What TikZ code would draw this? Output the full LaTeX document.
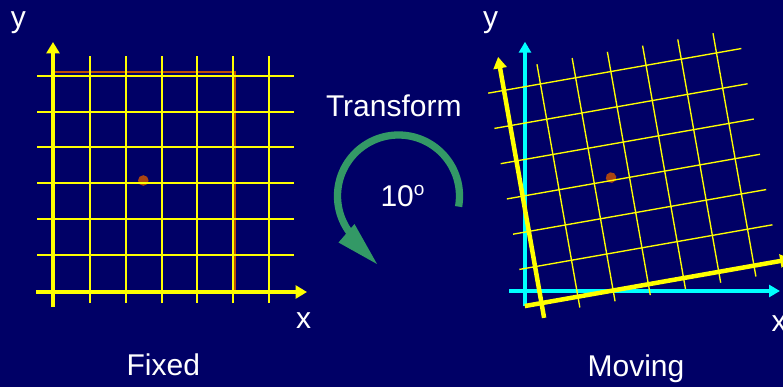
\documentclass[tikz,border=0pt]{standalone}
\usepackage{fontspec}
\setmainfont{Liberation Sans}
\usetikzlibrary{arrows.meta}
\definecolor{bg}{RGB}{0,0,102}
\definecolor{gridy}{RGB}{255,255,0}
\definecolor{arcg}{RGB}{51,153,102}
\definecolor{dotc}{RGB}{170,68,17}
\definecolor{rectc}{RGB}{190,80,0}
\definecolor{cyanax}{RGB}{0,255,255}
\begin{document}
\begin{tikzpicture}[x=1pt,y=-1pt,
  lbl/.style={text=white,font=\fontsize{30}{36}\selectfont,inner sep=0pt,anchor=base},
  gridline/.style={gridy,line width=2pt},
  gridthin/.style={gridy,line width=1.35pt},
  axisY/.style={gridy,line width=4.5pt,-{Triangle[length=11.5pt,width=13pt]}},
  axisF/.style={gridy,line width=4pt,-{Triangle[length=11.5pt,width=13pt]}},
  axisC/.style={cyanax,line width=4pt,-{Triangle[length=11pt,width=12pt]}},
  turn/.style={arcg,line width=7.3pt},
]
\fill[bg] (0,0) rectangle (783,387);
\useasboundingbox (0,0) rectangle (783,387);

% ---------- Fixed panel ----------
\draw[rectc,line width=2.5pt] (53,292) rectangle (234.5,72);
\fill[dotc] (143.3,180.5) circle (5.3);
\foreach \gx in {90,126,162,197,233,269}
  \draw[gridline] (\gx,303) -- (\gx,56);
\foreach \gy in {76,112,147,183,219,255}
  \draw[gridline] (37,\gy) -- (294,\gy);
\draw[axisF] (53,307) -- (53,42);
\draw[axisF] (36,292) -- (307,292);

% ---------- Moving panel ----------
\begin{scope}[shift={(525,291)}]
  \draw[axisC] (0,15) -- (0,-249.3);
  \draw[axisC] (-16,0) -- (255,0);
\end{scope}
\begin{scope}[shift={(541.5,303.1)},rotate=10]
  \fill[dotc] (90.3,-111.5) circle (5.3);
  \foreach \k in {0,...,5} {
    \draw[gridthin] ({37+35.75*\k},11) -- ({37+35.75*\k},-236);
    \draw[gridthin] (-16,{-37-35.8*\k}) -- (241,{-37-35.8*\k});
  }
  \draw[axisY] (0,15) -- (0,-250);
  \draw[axisY] (-17,0) -- (254,0);
\end{scope}

% ---------- Rotation arrow ----------
\draw[turn] plot[domain=10:-217,samples=120] ({398.5+61*cos(\x)},{196+61*sin(\x)});
\fill[arcg] (338.5,242.5) -- (354.5,224) -- (377,264) -- cycle;

% ---------- Labels ----------
\node[lbl] (yl) at (18.3,27.3) {y};
\node[lbl] (xl) at (303.7,328) {x};
\node[lbl] (fixed) at (163.3,375) {Fixed};
\node[lbl] (tr) at (393.8,116.7) {Transform};
\node[lbl] (deg) at (402.5,207) {10\raisebox{11pt}{\fontsize{19}{19}\selectfont o}};
\node[lbl] (yr) at (490.5,27.3) {y};
\node[lbl] (xr) at (779,331.7) {x};
\node[lbl] (mov) at (636,376.5) {Moving};
\end{tikzpicture}
\end{document}
